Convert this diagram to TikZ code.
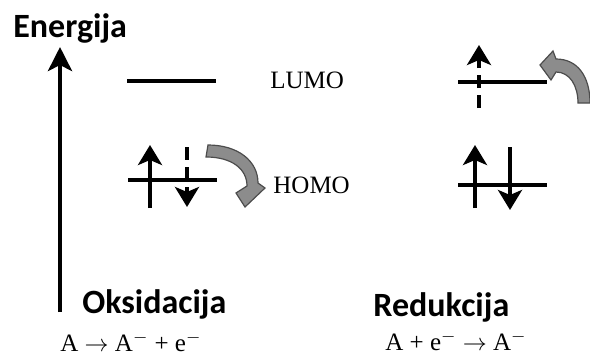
\documentclass[tikz,border=0pt]{standalone}
\usepackage{fontspec}
\setmainfont{Liberation Serif}
\newfontfamily\labelfont{Carlito}
\usetikzlibrary{arrows.meta}

\begin{document}
\begin{tikzpicture}[x=0.5pt,y=-0.5pt,
	level/.style={line width=2.3pt},
	spin/.style={line width=2.2pt,-{Stealth[length=10pt,width=12pt,inset=2.5pt]}},
	halfspin/.style={spin,dash pattern=on 6.5pt off 3.5pt},
	axis/.style={line width=2.3pt,-{Stealth[length=12pt,width=12pt,inset=3pt]}},
	transfer/.style={fill=black!45,draw=black!70,line width=0.6pt},
	title/.style={font=\labelfont\bfseries\fontsize{17}{20}\selectfont,inner sep=0,anchor=base west},
	orbital/.style={font=\fontsize{12.5}{15}\selectfont,inner sep=0,anchor=base west}]
	\useasboundingbox (0,0) rectangle (590,354);
	\node[title] (energy) at (13,37) {Energija};
	\coordinate (a0) at (60,312);
	\coordinate (a1) at (60,47);
	\draw[axis] (a0) -- (a1);
	\coordinate (l1) at (127,81);
	\coordinate (l2) at (216,81);
	\coordinate (h1) at (128,180);
	\coordinate (h2) at (217,180);
	\coordinate (r1) at (458,82);
	\coordinate (r2) at (547,82);
	\coordinate (s1) at (458,185);
	\coordinate (s2) at (547,185);
	\draw[level] (l1) -- (l2);
	\draw[level] (h1) -- (h2);
	\draw[level] (r1) -- (r2);
	\draw[level] (s1) -- (s2);
	\coordinate (u1) at (150,208);
	\coordinate (u2) at (150,145);
	\coordinate (d1) at (187,147);
	\coordinate (d2) at (187,207);
	\coordinate (v1) at (479,108);
	\coordinate (v2) at (479,45);
	\coordinate (w1) at (475,208);
	\coordinate (w2) at (475,145);
	\coordinate (e1) at (510,147);
	\coordinate (e2) at (510,210);
	\draw[spin] (u1) -- (u2);
	\draw[halfspin] (d1) -- (d2);
	\draw[halfspin] (v1) -- (v2);
	\draw[spin] (w1) -- (w2);
	\draw[spin] (e1) -- (e2);
	\filldraw[transfer] (208,145) .. controls (238,145) and (258,161) .. (258,183) -- (265,188) -- (245,207) -- (236,193) -- (247,186) .. controls (247,169) and (232,157) .. (206,157) -- cycle;
	\filldraw[transfer] (578,103) .. controls (578,86) and (570,72) .. (556,72) -- (551,80) -- (540,65) -- (553,51) -- (556,59) .. controls (578,59) and (590,77) .. (590,103) -- cycle;
	\node[orbital] (lumo) at (270,88) {LUMO};
	\node[orbital] (homo) at (273,193) {HOMO};
	\node[title] (ox) at (82,313) {Oksidacija};
	\node[orbital] (oxeq) at (60,351) {A $\rightarrow$ A$^-$ + e$^-$};
	\node[title] (red) at (373,316) {Redukcija};
	\node[orbital] (redeq) at (385,350) {A + e$^-$ $\rightarrow$ A$^-$};
\end{tikzpicture}
\end{document}
